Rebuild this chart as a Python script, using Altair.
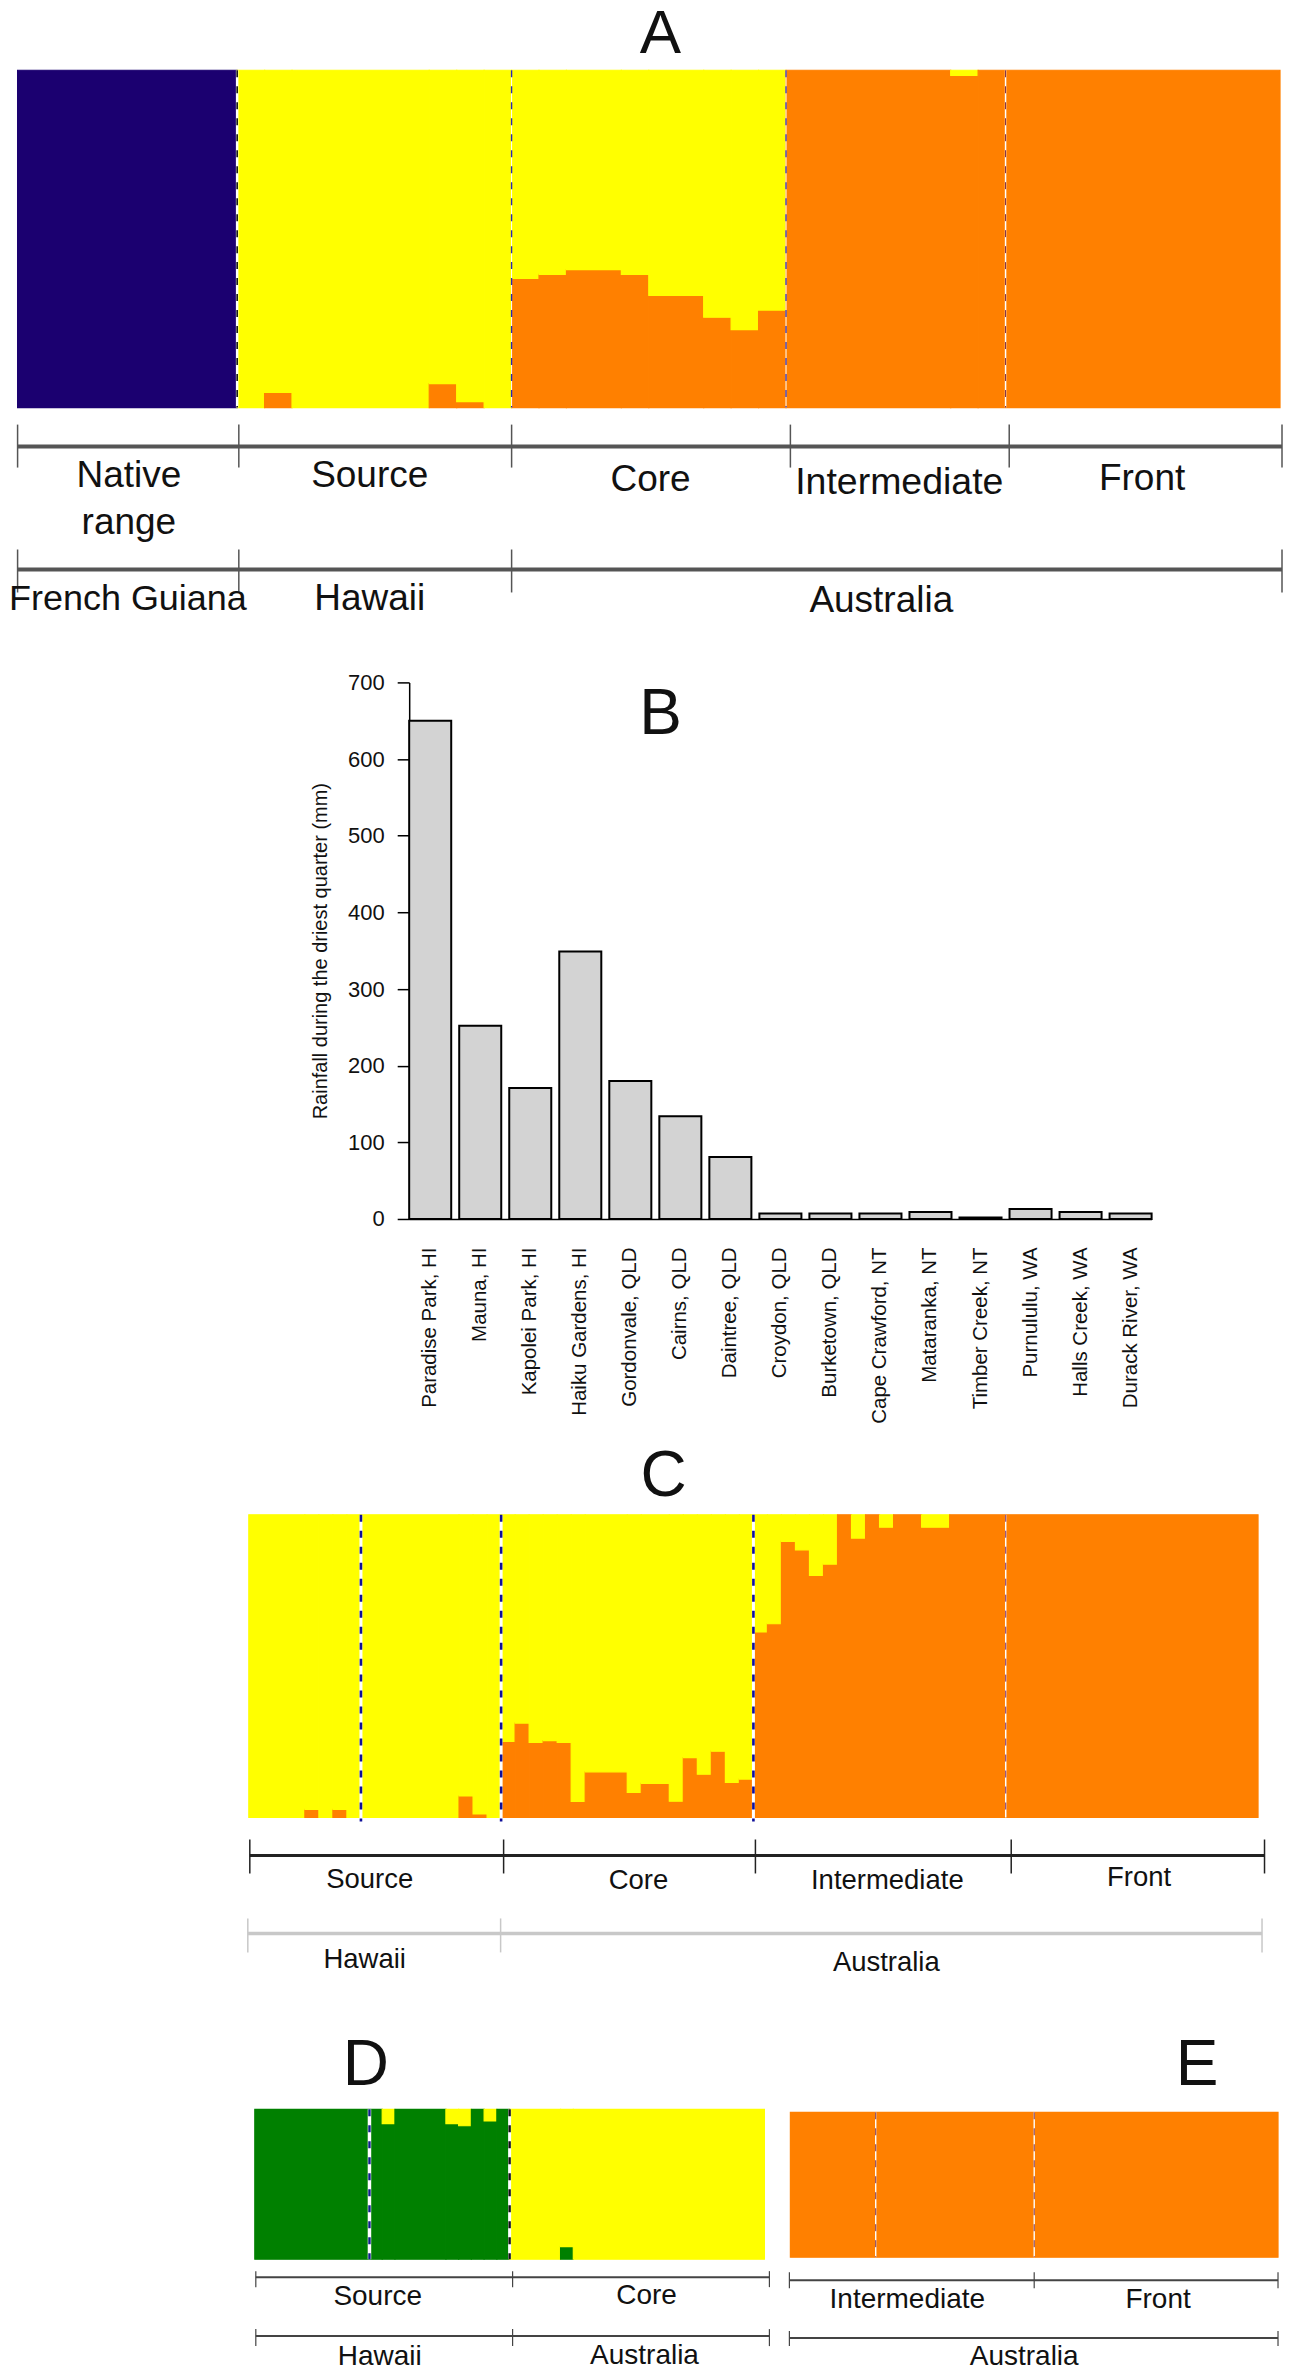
import altair as alt
import pandas as pd

FONT = 'Liberation Sans'
NAVY, YELLOW, ORANGE, GREEN = '#1b0070', '#ffff00', '#ff8000', '#008000'

# fraction of each individual in the lower cluster, rest is yellow
a_native = [1.0] * 8
a_source = [0, .045, 0, 0, 0, 0, 0, .071, .018, 0]
a_core = [.383, .395, .409, .409, .395, .333, .333, .268, .231, .289]
a_inter = [1, 1, 1, 1, 1, 1, .985, 1]
a_front = [1.0] * 10

c_source = [0, 0, 0, 0, .027, 0, .027, 0, 0, 0, 0, 0, 0, 0, 0, .071, .012, 0]
c_core = [.251, .312, .248, .254, .248, .053, .151, .151, .151, .083, .113, .113, .054, .198, .143, .219, .116, .127]
c_inter = [.613, .64, .912, .884, .80, .837, 1, .923, 1, .959, 1, 1, .959, .959, 1, 1, 1, 1]
c_front = [1.0] * 18

d_source = [1, 1, 1, 1, 1, 1, 1, 1, 1, 1, .904, 1, 1, 1, 1, .904, .89, 1, .922, 1]
d_core = [0, 0, 0, 0, .084, 0, 0, 0, 0, 0, 0, 0, 0, 0, 0, 0, 0, 0, 0, 0]

e_all = [1.0] * 40

sites = ['Paradise Park, HI', 'Mauna, HI', 'Kapolei Park, HI', 'Haiku Gardens, HI',
         'Gordonvale, QLD', 'Cairns, QLD', 'Daintree, QLD', 'Croydon, QLD',
         'Burketown, QLD', 'Cape Crawford, NT', 'Mataranka, NT', 'Timber Creek, NT',
         'Purnululu, WA', 'Halls Creek, WA', 'Durack River, WA']
rainfall = [650, 252, 171, 349, 180, 134, 81, 7, 7, 7, 9, 2, 13, 9, 7]
y_ticks = [0, 100, 200, 300, 400, 500, 600, 700]


def structure(groups, x0, x1, y0, y1, ox, oy):
    # neighbours with the same value become one run, so no seams between them
    runs = []
    i = 0
    for lower, low_color in groups:
        for v in lower:
            if runs and runs[-1][2] == v and runs[-1][3] == low_color:
                runs[-1][1] = i + 1
            else:
                runs.append([i, i + 1, v, low_color])
            i += 1
    rows = []
    for start, end, v, low_color in runs:
        if v > 0:
            rows.append({'ind': start, 'ind2': end, 'a': 0, 'b': v, 'c': low_color})
        if v < 1:
            rows.append({'ind': start, 'ind2': end, 'a': v, 'b': 1, 'c': YELLOW})
    colors = [NAVY, YELLOW, ORANGE, GREEN]
    sc = alt.Scale(domain=colors, range=colors)
    x_sc = alt.Scale(domain=[0, i], range=[x0 - ox, x1 - ox], nice=False, zero=False)
    y_sc = alt.Scale(domain=[0, 1], range=[y1 - oy, y0 - oy], nice=False)
    ch = alt.Chart(pd.DataFrame(rows)).mark_rect(strokeWidth=1.2, opacity=1).encode(
        x=alt.X('ind:Q', scale=x_sc, axis=None),
        x2='ind2:Q',
        y=alt.Y('a:Q', scale=y_sc, axis=None),
        y2='b:Q',
        color=alt.Color('c:N', scale=sc, legend=None),
        stroke=alt.Stroke('c:N', scale=sc, legend=None),
    )
    return ch, x_sc


def breaks(values, x_sc, y0, y1, oy, dash_color, width=1.6, under_width=2.5):
    df = pd.DataFrame({'b': values})
    under = alt.Chart(df).mark_rule(color='white', strokeWidth=under_width).encode(
        x=alt.X('b:Q', scale=x_sc, axis=None), y=alt.value(y0 - oy), y2=alt.value(y1 - oy))
    over = alt.Chart(df).mark_rule(color=dash_color, strokeWidth=width, strokeDash=[7, 9]).encode(
        x=alt.X('b:Q', scale=x_sc, axis=None), y=alt.value(y0 - oy), y2=alt.value(y1 - oy))
    return [under, over]


def label(text, x, y, size, ox, oy):
    return alt.Chart().mark_text(text=text, fontSize=size, font=FONT, color='#111', align='center',
                                 baseline='alphabetic').encode(
        x=alt.value(x - ox), y=alt.value(y - oy))


def bracket(xs, y, t0, t1, ox, oy, color, width, tick_width):
    parts = [alt.Chart().mark_rule(color=color, strokeWidth=width).encode(
        x=alt.value(xs[0] - ox), x2=alt.value(xs[-1] - ox), y=alt.value(y - oy))]
    for x in xs:
        parts.append(alt.Chart().mark_rule(color=color, strokeWidth=tick_width).encode(
            x=alt.value(x - ox), y=alt.value(t0 - oy), y2=alt.value(t1 - oy)))
    return parts


# panel A
ox, oy = 8, 8
rect, xs = structure([(a_native, NAVY), (a_source + a_core + a_inter + a_front, ORANGE)],
                     16.6, 1280, 69.4, 407, ox, oy)
panel_a = alt.layer(
    rect,
    *breaks([8], xs, 69.4, 407, oy, '#111', 1.6),
    *breaks([18], xs, 69.4, 407, oy, '#2a2ab0', 1.4, 1),
    *breaks([28], xs, 69.4, 407, oy, '#2a2ab0', 1.2, 1),
    *breaks([36], xs, 69.4, 407, oy, '#7a2a40', 1, 1.5),
    label('A', 660, 52, 62, ox, oy),
    *bracket([16.6, 238, 511, 790, 1009, 1282], 446, 424, 467, ox, oy, '#555', 4, 1.5),
    label('Native', 128, 486, 37, ox, oy), label('range', 128, 533, 37, ox, oy),
    label('Source', 369, 486, 37, ox, oy), label('Core', 650, 490, 37, ox, oy),
    label('Intermediate', 899, 493, 37.5, ox, oy), label('Front', 1142, 489, 37, ox, oy),
    *bracket([16.6, 238, 511, 1282], 569, 549, 592, ox, oy, '#555', 4, 1.5),
    label('French Guiana', 127, 610, 36, ox, oy), label('Hawaii', 369, 610, 37, ox, oy),
    label('Australia', 881, 612, 37, ox, oy),
).properties(width=1283, height=640)

# panel B
ox, oy = 8, 648
bars = alt.Chart(pd.DataFrame({'site': sites, 'rain': rainfall})).mark_bar(
    fill='#d3d3d3', stroke='black', strokeWidth=2).encode(
    x=alt.X('site:N', sort=sites,
            scale=alt.Scale(domain=sites, range=[408.5 - ox, 1151.5 - ox], paddingInner=0.16, paddingOuter=0),
            axis=alt.Axis(title=None, offset=-(oy + 822 - 1219), labelAngle=-90, labelAlign='right',
                          labelBaseline='middle', labelFont=FONT, labelFontSize=20.5, labelColor='#111',
                          labelPadding=28, labelOverlap=False, labelLimit=400, ticks=False,
                          domainColor='black', domainWidth=1.5, grid=False)),
    y=alt.Y('rain:Q', scale=alt.Scale(domain=[0, 700], range=[1219 - oy, 682 - oy], nice=False),
            axis=alt.Axis(title='Rainfall during the driest quarter (mm)', offset=-(408.5 - ox),
                          values=y_ticks, tickSize=12, tickColor='black', tickWidth=1.5, domainColor='black',
                          domainWidth=1.5, labelFont=FONT, labelFontSize=22, labelColor='#111', labelPadding=13,
                          titleFont=FONT, titleFontSize=20, titleFontWeight='normal', titleColor='#111',
                          titlePadding=17, grid=False, labelOverlap=False)),
)
panel_b = alt.layer(bars, label('B', 660, 734, 64, ox, oy)).properties(width=1283, height=822)

# panel C
ox, oy = 8, 1470
rect, xs = structure([(c_source + c_core + c_inter + c_front, ORANGE)], 248, 1258, 1515, 1818, ox, oy)
panel_c = alt.layer(
    rect,
    *breaks([8, 18, 36], xs, 1515, 1822, oy, '#10109a', 2.6, 3),
    *breaks([54], xs, 1515, 1818, oy, '#7a2a60', 1, 1.5),
    label('C', 663, 1496, 64, ox, oy),
    *bracket([249, 503, 755, 1011, 1264.5], 1856, 1840, 1874, ox, oy, '#222', 3, 1.5),
    label('Source', 369, 1889, 27.5, ox, oy), label('Core', 638, 1890, 27.5, ox, oy),
    label('Intermediate', 887, 1890, 27.5, ox, oy), label('Front', 1139, 1887, 27.5, ox, oy),
    *bracket([247, 500, 1262], 1934, 1919, 1953, ox, oy, '#c8c8c8', 3.5, 1.5),
    label('Hawaii', 364, 1969, 27.5, ox, oy), label('Australia', 886, 1972, 27.5, ox, oy),
).properties(width=1283, height=560)

# panels D and E
ox, oy = 8, 2030
rect, xs = structure([(d_source + d_core, GREEN)], 254, 764, 2110, 2260, ox, oy)
panel_d = alt.layer(
    rect, *breaks([9], xs, 2110, 2260, oy, '#10208a', 2.4, 3.5),
    *breaks([20], xs, 2110, 2260, oy, '#111', 2.4, 3),
    label('D', 365, 2086, 64, ox, oy),
    *bracket([255, 512, 769], 2278, 2272, 2288, ox, oy, '#444', 2, 1.2),
    label('Source', 377, 2306, 28, ox, oy), label('Core', 646, 2305, 28, ox, oy),
    *bracket([255, 512, 769], 2337, 2330, 2347, ox, oy, '#444', 2, 1.2),
    label('Hawaii', 379, 2366, 28, ox, oy), label('Australia', 644, 2365, 28, ox, oy),
).properties(width=767, height=335)

ox = 775
rect, xs = structure([(e_all, ORANGE)], 790, 1278, 2113, 2258, ox, oy)
panel_e = alt.layer(
    rect, *breaks([7, 20], xs, 2113, 2258, oy, '#7a2a40', 1, 1.4),
    label('E', 1197, 2086, 64, ox, oy),
    *bracket([789, 1034, 1278], 2281, 2273, 2289, ox, oy, '#444', 2, 1.2),
    label('Intermediate', 907, 2309, 28, ox, oy), label('Front', 1158, 2309, 28, ox, oy),
    *bracket([789, 1278], 2339, 2332, 2347, ox, oy, '#444', 2, 1.2),
    label('Australia', 1024, 2366, 28, ox, oy),
).properties(width=516, height=335)

bottom = alt.hconcat(panel_d, panel_e, spacing=0, bounds='flush')
chart = alt.vconcat(panel_a, panel_b, panel_c, bottom, spacing=0, bounds='flush').properties(
    padding={'top': -6, 'left': 0, 'right': 0, 'bottom': 0}, background='white'
).configure_view(stroke=None)

chart.save("out.html", embed_options={"renderer": "svg", "actions": False})
